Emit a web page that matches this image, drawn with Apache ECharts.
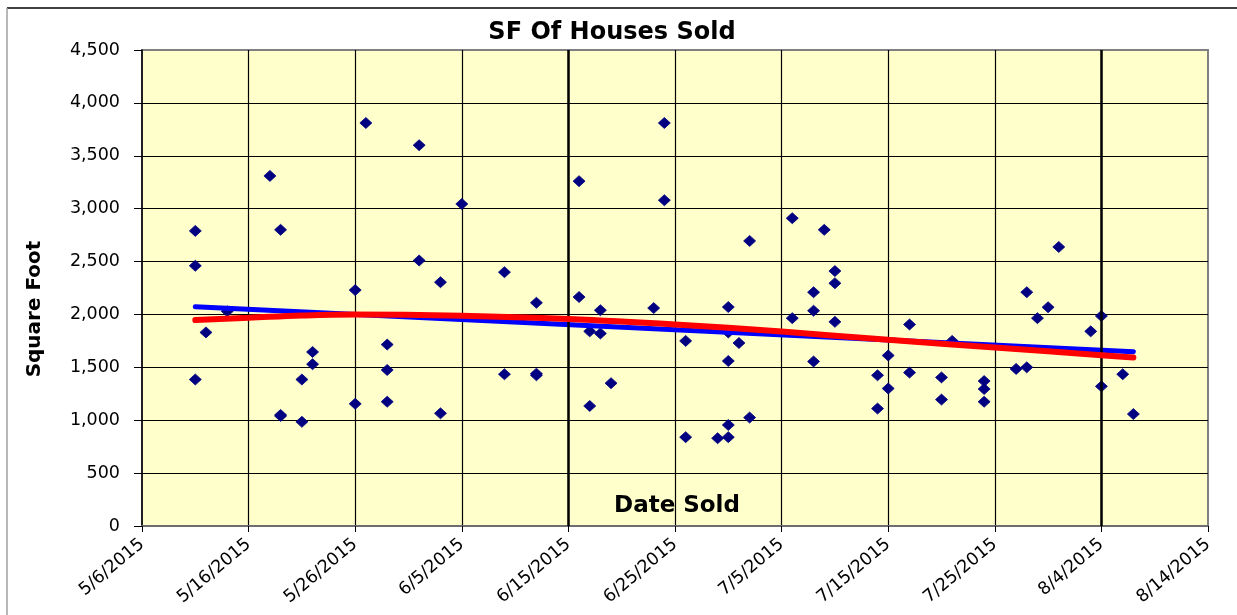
<!DOCTYPE html>
<html>
<head>
<meta charset="utf-8">
<script src="https://cdn.jsdelivr.net/npm/echarts@6/dist/echarts.min.js"></script>
<style>
html,body{margin:0;padding:0;background:#fff;}
#chart{width:1237px;height:615px;}
</style>
</head>
<body>
<div id="chart"></div>
<script>
// ---- data ----
const saleDates = [
 '5/11/2015','5/11/2015','5/11/2015','5/12/2015','5/14/2015','5/18/2015',
 '5/19/2015','5/19/2015','5/19/2015','5/21/2015','5/21/2015','5/22/2015','5/22/2015',
 '5/26/2015','5/26/2015','5/27/2015','5/29/2015','5/29/2015','5/29/2015',
 '6/1/2015','6/1/2015','6/3/2015','6/3/2015','6/5/2015','6/9/2015','6/9/2015',
 '6/12/2015','6/12/2015','6/12/2015','6/16/2015','6/16/2015','6/17/2015','6/17/2015',
 '6/18/2015','6/18/2015','6/19/2015','6/23/2015','6/24/2015','6/24/2015',
 '6/26/2015','6/26/2015','6/29/2015',
 '6/30/2015','6/30/2015','6/30/2015','6/30/2015','6/30/2015',
 '7/1/2015','7/2/2015','7/2/2015','7/6/2015','7/6/2015',
 '7/8/2015','7/8/2015','7/8/2015','7/9/2015','7/10/2015','7/10/2015','7/10/2015',
 '7/14/2015','7/14/2015','7/15/2015','7/15/2015','7/17/2015','7/17/2015',
 '7/20/2015','7/20/2015','7/21/2015','7/24/2015','7/24/2015','7/24/2015',
 '7/27/2015','7/28/2015','7/28/2015','7/29/2015','7/30/2015','7/31/2015',
 '8/3/2015','8/4/2015','8/4/2015','8/6/2015','8/7/2015'
];
const saleSqft = [
 2790,2460,1385,1830,2030,3310,
 2800,1050,1040,1385,985,1645,1530,
 2230,1155,3810,1715,1475,1175,
 3600,2510,2305,1065,3045,2400,1435,
 2110,1440,1425,3260,2165,1840,1135,
 2040,1820,1350,2060,3810,3080,
 1750,840,830,
 2070,1830,1560,955,840,
 1730,2695,1025,2910,1965,
 2210,2035,1555,2800,2410,2295,1930,
 1425,1110,1612,1300,1905,1450,
 1405,1195,1750,1370,1295,1175,
 1485,2210,1500,1965,2068,2638,
 1840,1985,1320,1435,1058
];
const linearTrendDates = ['5/11/2015','8/7/2015'];
const linearTrendValues = [2073,1648];
const polyTrendDates = ['5/11/2015','5/16/2015','5/21/2015','5/26/2015','6/5/2015','6/15/2015',
 '6/25/2015','7/5/2015','7/15/2015','7/25/2015','8/4/2015','8/7/2015'];
const polyTrendValues = [1947,1968,1990,2000,1988,1957,1905,1838,1760,1688,1615,1592];
const xTickLabels = ['5/6/2015','5/16/2015','5/26/2015','6/5/2015','6/15/2015','6/25/2015',
 '7/5/2015','7/15/2015','7/25/2015','8/4/2015','8/14/2015'];
const heavyGridDates = ['6/15/2015','8/4/2015'];

// ---- helpers ----
const BASE = Date.UTC(2015,4,6);
function dayOf(s){ const p = s.split('/').map(Number); return (Date.UTC(p[2],p[0]-1,p[1]) - BASE)/86400000; }
function zip(ds, vs){ return ds.map((d,i)=>[dayOf(d), vs[i]]); }

const FONT = 'DejaVu Sans';
const chart = echarts.init(document.getElementById('chart'), null, {renderer:'canvas'});
chart.setOption({
  backgroundColor:'#ffffff',
  animation:false,
  title:{
    text:'SF Of Houses Sold', left:607, top:16, textAlign:'center',
    textStyle:{fontFamily:FONT, fontWeight:'bold', fontSize:24, color:'#000'}
  },
  grid:{left:142, top:50, width:1066, height:476, show:true,
    backgroundColor:'#FFFFCC', borderColor:'#808080', borderWidth:2},
  xAxis:{
    type:'value', min:0, max:100, interval:10,
    axisLine:{show:true, lineStyle:{color:'#6e6e6e', width:2}},
    axisTick:{show:true, length:6, lineStyle:{color:'#000', width:1}},
    splitLine:{show:true, showMinLine:false, showMaxLine:false, lineStyle:{color:'#000', width:1.2}},
    axisLabel:{rotate:40, margin:16, fontFamily:FONT, fontSize:17.5, color:'#000',
      formatter:(v)=>xTickLabels[Math.round(v/10)] || ''}
  },
  yAxis:{
    type:'value', min:0, max:4500, interval:500,
    axisLine:{show:true, lineStyle:{color:'#000', width:1.5}},
    axisTick:{show:true, length:8, lineStyle:{color:'#000', width:1}},
    splitLine:{show:true, showMaxLine:false, lineStyle:{color:'#000', width:1.2}},
    axisLabel:{margin:22, fontFamily:FONT, fontSize:17.5, color:'#000',
      formatter:(v)=>v.toLocaleString('en-US')}
  },
  graphic:[
    {type:'line', shape:{x1:7, y1:8, x2:1237, y2:8}, style:{stroke:'#000', lineWidth:1.5}, silent:true},
    {type:'line', shape:{x1:7, y1:8, x2:7, y2:615}, style:{stroke:'#a0a0a0', lineWidth:1.5}, silent:true},
    {type:'text', x:35, y:309, rotation:Math.PI/2, silent:true,
      style:{text:'Square Foot', font:'bold 20px "DejaVu Sans"', fill:'#000', textAlign:'center', textVerticalAlign:'middle'}},
    {type:'text', x:677, y:506, silent:true, z:100,
      style:{text:'Date Sold', font:'bold 23px "DejaVu Sans"', fill:'#000', textAlign:'center', textVerticalAlign:'middle'}}
  ],
  series:[
    {
      type:'line', name:'heavy grid', data:[], silent:true, z:1,
      markLine:{silent:true, symbol:['none','none'], label:{show:false},
        lineStyle:{color:'#000', width:2.5, type:'solid'},
        data: heavyGridDates.map(d=>({xAxis:dayOf(d)}))}
    },
    {
      type:'scatter', name:'SF', data:zip(saleDates, saleSqft), z:3,
      symbol:'diamond', symbolSize:[12,11],
      itemStyle:{color:'#000080', borderColor:'#000080', borderWidth:0.8, opacity:1}
    },
    {
      type:'line', name:'Linear trend', data:zip(linearTrendDates, linearTrendValues), z:4,
      showSymbol:false, symbol:'none',
      lineStyle:{color:'#0000FF', width:5, cap:'round'}
    },
    {
      type:'line', name:'Polynomial trend', data:zip(polyTrendDates, polyTrendValues), z:5,
      showSymbol:false, symbol:'none', smooth:0.4,
      lineStyle:{color:'#FF0000', width:6, cap:'round'}
    }
  ]
});
</script>
</body>
</html>
